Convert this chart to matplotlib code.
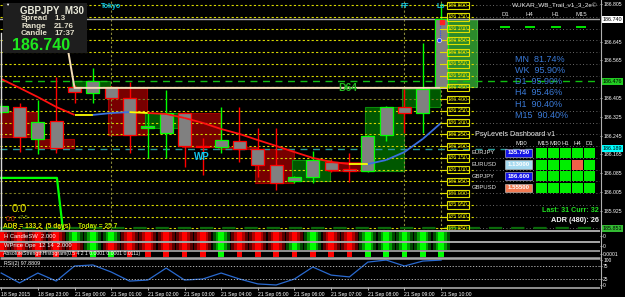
import numpy as np
import matplotlib
matplotlib.use('Agg')
import matplotlib.pyplot as plt
from matplotlib.patches import Rectangle
from matplotlib import transforms

plt.rcParams['font.family'] = ['Liberation Sans', 'DejaVu Sans']

# ------------------------------------------------------------------ data
bar_times = ['18 Sep 22:00', '18 Sep 22:30', '18 Sep 23:00', '18 Sep 23:30',
             '21 Sep 00:00', '21 Sep 00:30', '21 Sep 01:00', '21 Sep 01:30',
             '21 Sep 02:00', '21 Sep 02:30', '21 Sep 03:00', '21 Sep 03:30',
             '21 Sep 04:00', '21 Sep 04:30', '21 Sep 05:00', '21 Sep 05:30',
             '21 Sep 06:00', '21 Sep 06:30', '21 Sep 07:00', '21 Sep 07:30',
             '21 Sep 08:00', '21 Sep 08:30', '21 Sep 09:00', '21 Sep 09:30',
             '21 Sep 10:00']
time_labels = ['18 Sep 2015', '18 Sep 23:00', '21 Sep 00:00', '21 Sep 01:00',
               '21 Sep 02:00', '21 Sep 03:00', '21 Sep 04:00', '21 Sep 05:00',
               '21 Sep 06:00', '21 Sep 07:00', '21 Sep 08:00', '21 Sep 09:00',
               '21 Sep 10:00']

open_ = [186.345, 186.367, 186.231, 186.307, 186.452, 186.426, 186.452, 186.405,
         186.277, 186.256, 186.341, 186.201, 186.197, 186.222, 186.188, 186.120,
         186.052, 186.069, 186.133, 186.103, 186.094, 186.248, 186.367, 186.341,
         186.452]
high = [186.384, 186.384, 186.397, 186.494, 186.460, 186.533, 186.456, 186.473,
        186.341, 186.439, 186.345, 186.235, 186.367, 186.367, 186.277, 186.277,
        186.073, 186.180, 186.145, 186.171, 186.248, 186.371, 186.443, 186.639,
        186.809]
low = [186.337, 186.175, 186.167, 186.171, 186.384, 186.384, 186.401, 186.171,
       186.150, 186.150, 186.111, 186.077, 186.171, 186.133, 186.069, 186.014,
       186.043, 186.043, 186.090, 186.048, 186.090, 186.222, 186.256, 186.256,
       186.452]
close = [186.371, 186.239, 186.303, 186.192, 186.431, 186.477, 186.405, 186.248,
         186.286, 186.341, 186.201, 186.197, 186.226, 186.188, 186.120, 186.043,
         186.069, 186.141, 186.099, 186.094, 186.243, 186.367, 186.341, 186.443,
         186.740]

ma = [186.486, 186.448, 186.409, 186.367, 186.333, 186.333, 186.341, 186.345,
      186.341, 186.337, 186.320, 186.299, 186.273, 186.252, 186.226, 186.201,
      186.175, 186.150, 186.133, 186.124, 186.124, 186.141, 186.175, 186.231,
      186.299]
ma_seg_colors = ['r', 'r', 'r', 'r', 'y', 'b', 'b', 'y', 'r', 'r', 'r', 'r',
                 'r', 'r', 'r', 'r', 'r', 'r', 'r', 'y', 'b', 'b', 'b', 'b']

tan_x = [3.55, 4.0, 24.3]
tan_y = [186.652, 186.448, 186.448]
green_x = [-0.07, 3.04, 3.37]
green_y = [186.065, 186.065, 185.843]

rsi = [48, 10, 48, 17, 75, 79, 52, 17, 21, 67, 21, 25, 48, 25, 6, 2, 25, 71,
       40, 33, 90, 98, 75, 94, 97.88]

strip1 = list('RRRRGGGRRRRRGRRRRGRRGGGGG')
strip2 = list('RRRRRGRRRRRRGRRRGGRRGGGGG')
strip3 = list('RRRRRGGRRRRRGRRRRRRRGGGGG')

psy_levels = [186.80, 186.75, 186.70, 186.65, 186.60, 186.55, 186.50, 186.45,
              186.40, 186.35, 186.30, 186.25, 186.20, 186.15, 186.10, 186.05,
              186.00, 185.95, 185.90, 185.85]
dark_levels = [186.40, 186.00]
price_ticks = [186.805, 186.645, 186.565, 186.405, 186.325,
               186.245, 186.165, 186.085, 186.005, 185.925]

key_levels = [186.740, 186.476, 186.189, 185.851]
key_line_colors = ['#a8a8a8', '#10c010', '#2a9a9a', '#0b6a0b']
key_box_colors = ['#ffffff', '#22cc22', '#00ffff', '#33bb33']

session_names = ['Tokyo', 'FF', 'Lo']
session_bars = [6, 22, 24]

trade_marks_price = [186.727, 186.652]

symbol, timeframe = 'GBPJPY', 'M30'
info_labels = ['Spread', 'Range', 'Candle']
info_values = ['1.3', '21.76', '17:37']
bid_text = '186.740'

wukar_hdr = ['D1', 'H4', 'H1', 'M15']
wukar_tf = ['MN', 'WK', 'D1', 'H4', 'H1', 'M15']
wukar_pct = [81.74, 95.90, 95.90, 95.46, 90.40, 90.40]

dash_pairs = ['EURJPY', 'EURUSD', 'GBPJPY', 'GBPUSD']
dash_prices = ['135.750', '1.13000', '186.600', '1.55500']
dash_price_colors = ['#1414e6', '#a6daf0', '#1414e6', '#f27a52']
dash_cols = ['M15', 'M30', 'H1', 'H4', 'D1']
dash_status = [['G', 'G', 'G', 'G', 'G'],
               ['G', 'G', 'G', 'R', 'G'],
               ['G', 'G', 'G', 'G', 'G'],
               ['G', 'G', 'G', 'G', 'G']]

# ------------------------------------------------------------------ layout
W, H = 625, 297
fig = plt.figure(figsize=(W / 100, H / 100), dpi=100, facecolor='black')


def pbox(x0, y0, x1, y1):
    return [x0 / W, 1 - y1 / H, (x1 - x0) / W, (y1 - y0) / H]


SP = 18.33
XL = (-1.2 / SP, (600 - 1.2) / SP)
n = len(open_)
xs = np.arange(n)

ax = fig.add_axes(pbox(0, 0, 600, 230))
ax.set_facecolor('black')
ax.set_xlim(XL)
ax.set_ylim(185.8433, 186.822)
for s in ax.spines.values():
    s.set_visible(False)

# H1 bodies (built from pairs of M30 bars)
for k in range(0, n, 2):
    o = open_[k]
    c = close[min(k + 1, n - 1)]
    if k + 1 >= n:
        fc, ec = '#2b8a2b', '#3aa83a'
    elif c >= o:
        fc, ec = '#005800', '#0a8a0a'
    else:
        fc, ec = '#780000', '#a00000'
    ax.add_patch(Rectangle((k - 0.15, min(o, c)), 2.1, abs(c - o),
                           facecolor=fc, edgecolor=ec, lw=0.8, zorder=1))

# psy level lines
for lv in psy_levels:
    col = '#7a7a22' if any(abs(lv - d) < 1e-6 for d in dark_levels) else '#d8d800'
    ax.plot([XL[0], 25.9], [lv, lv], color=col, lw=0.8, ls=(0, (2, 2)), zorder=2)
    ax.plot([25.9, XL[1]], [lv, lv], color='#8c8c8c', lw=0.6, ls=(0, (1, 3)), zorder=2)

# key levels
styles = ['-', (0, (5, 4)), (0, (5, 4)), (0, (6, 4))]
lws = [1.0, 1.0, 1.0, 1.6]
for lv, lc, st, lw in zip(key_levels, key_line_colors, styles, lws):
    ax.plot([XL[0], XL[1]], [lv, lv], color=lc, lw=lw, ls=st, zorder=2.5)

# sessions
xtr = ax.get_xaxis_transform()
for name, k in zip(session_names, session_bars):
    ax.axvline(k, color='#8a8a3a', lw=0.8, ls=(0, (2, 2)), zorder=2)
    ax.text(k, 1 - 7 / 230, name, transform=xtr, ha='center', va='center',
            fontsize=5, fontweight='bold', color='#10c8e8', zorder=8)

# candles
for k in range(n):
    up = close[k] >= open_[k]
    col = '#00ff00' if up else '#ff0000'
    ax.vlines(k, low[k], high[k], color=col, lw=1, zorder=3)
    b0 = min(open_[k], close[k])
    bh = max(abs(close[k] - open_[k]), 0.002)
    ax.add_patch(Rectangle((k - 0.36, b0), 0.72, bh, facecolor='#808080',
                           edgecolor=col, lw=0.9, zorder=4))

# moving average with colour-coded slope
ma_cmap = {'r': '#ff1010', 'y': '#ffff00', 'b': '#3a70e0'}
for k in range(n - 1):
    ax.plot([k, k + 1], [ma[k], ma[k + 1]], color=ma_cmap[ma_seg_colors[k]],
            lw=1.3, zorder=5, solid_capstyle='butt')

ax.plot(tan_x, tan_y, color='#f2dcb8', lw=1.4, zorder=5)
ax.plot(green_x, green_y, color='#00ff00', lw=1.6, zorder=5)

# trade marks on current bar
ax.vlines(n - 1.05, trade_marks_price[1], trade_marks_price[0], color='#3050ff',
          lw=0.8, ls=(0, (1, 1)), zorder=6)
ax.plot(n - 0.95, trade_marks_price[0], marker='s', ms=2.6, color='#ff2020', zorder=7)
ax.plot(n - 1.1, trade_marks_price[1], marker='o', ms=3, color='#2040ff',
        mec='white', mew=0.4, zorder=7)

# yellow psy level boxes
for lv in psy_levels:
    ax.plot([23.95, 24.25], [lv, lv], color='#e0e000', lw=0.8, zorder=6)
    ax.text(24.92, lv, f'{lv:.3f}', fontsize=4, color='#d8d800', ha='center',
            va='center', zorder=7,
            bbox=dict(boxstyle='square,pad=0.2', facecolor='none',
                      edgecolor='#e0e000', lw=0.8))

# right price axis
ax.yaxis.tick_right()
ax.set_yticks(price_ticks)
ax.set_yticklabels([f'{p:.3f}' for p in price_ticks])
ax.tick_params(axis='y', colors='white', labelsize=3.7, length=1.5, pad=0.8, width=0.5)
ax.tick_params(axis='x', bottom=False, labelbottom=False)
btr = transforms.blended_transform_factory(ax.transAxes, ax.transData)
for lv, bc in zip(key_levels, key_box_colors):
    ax.text(1.005, lv, f'{lv:.3f}', transform=btr, fontsize=3.9, color='black',
            ha='left', va='center', clip_on=False, zorder=20,
            bbox=dict(boxstyle='square,pad=0.15', fc=bc, ec='none'))

# ------------------------------------------------------------------ indicator strips
def strip_axes(y0, y1):
    a = fig.add_axes(pbox(0, y0, 600, y1))
    a.set_facecolor('black')
    a.set_xlim(XL)
    a.set_ylim(0, 1)
    for s in a.spines.values():
        s.set_visible(False)
    a.tick_params(axis='x', bottom=False, labelbottom=False)
    a.yaxis.tick_right()
    a.tick_params(axis='y', colors='white', labelsize=3.6, length=1.5, pad=0.8, width=0.5)
    return a


pal = {'R': ('#5a0000', '#b00000', '#ff0000'), 'G': ('#004a00', '#00a000', '#00ff00')}

s1 = strip_axes(232, 240.6)
s2 = strip_axes(242.4, 250)
s3 = strip_axes(251.3, 257)
for a, vals in ((s1, strip1), (s2, strip2)):
    for k, c in enumerate(vals):
        d, m, b = pal[c]
        a.add_patch(Rectangle((k - 0.47, 0), 0.94, 1, color=d, lw=0))
        a.add_patch(Rectangle((k - 0.3, 0), 0.6, 1, color=m, lw=0))
        a.add_patch(Rectangle((k - 0.16, 0), 0.32, 1, color=b, lw=0))
for k, c in enumerate(strip3):
    s3.add_patch(Rectangle((k - 0.15, 0.0), 0.3, 1, color=pal[c][2], lw=0))
s1.set_yticks([0.5]); s1.set_yticklabels(['0'])
s2.set_yticks([0.5]); s2.set_yticklabels(['0'])
s3.set_yticks([0.5]); s3.set_yticklabels(['0.0001'])

# RSI window
ar = fig.add_axes(pbox(0, 258.5, 600, 287))
ar.set_facecolor('black')
ar.set_xlim(XL)
ar.set_ylim(-5.8, 105.8 - 1.9)
for s in ar.spines.values():
    s.set_visible(False)
ar.plot(xs, rsi, color='#2a6ad0', lw=0.9)
for lvl in (75, 25):
    ar.axhline(lvl, color='#c8c8c8', lw=0.6, ls=(0, (1.5, 2)))
ar.yaxis.tick_right()
ar.set_yticks([100, 75, 25, 0])
ar.set_yticklabels(['100', '75', '25', '0'])
ar.tick_params(axis='y', colors='white', labelsize=3.5, length=1.5, pad=0.8, width=0.5)
ar.set_xticks(xs[::2])
ar.set_xticklabels(time_labels)
ar.tick_params(axis='x', colors='white', labelsize=3.7, length=2, pad=1.5, width=0.5)
for lab in ar.get_xticklabels():
    lab.set_ha('left')
    lab.set_family(['Liberation Sans Narrow', 'Liberation Sans'])

# ------------------------------------------------------------------ overlay decorations
ov = fig.add_axes([0, 0, 1, 1], zorder=10)
ov.set_xlim(0, W)
ov.set_ylim(H, 0)
ov.axis('off')
ov.patch.set_alpha(0)

for y, lw in ((231, 1.4), (241.5, 1.4), (250.6, 1.2), (258, 1.8), (287.6, 1.2)):
    ov.plot([0, 600], [y, y], color='#a8a8a8', lw=lw, solid_capstyle='butt')
ov.plot([600.5, 600.5], [0, 288], color='#b0b0b0', lw=0.8)
ov.plot([1, 1], [33, 230], color='#d8d8d8', lw=1)

# info box
ov.add_patch(Rectangle((3, 3), 84, 50, facecolor='#1e1e1e', edgecolor='none'))
ov.text(5, 4.5, '\u25bc', fontsize=3, color='white', va='center')
ov.text(20, 10.5, f'{symbol}  {timeframe}', fontsize=7, fontweight='bold',
        color='#ececdc', va='center')
for lab, val, y in zip(info_labels, info_values, [18, 26, 33.5]):
    ov.text(21, y, lab, fontsize=5.8, fontweight='bold', color='#e4e0cc', va='center')
    ov.text(54, y, val, fontsize=5.8, fontweight='bold', color='#e4e0cc', va='center')
ov.text(12, 46, bid_text, fontsize=11.5, fontweight='bold', color='#1ee81e', va='center')

# chart labels
ov.text(338, 88, 'D64', fontsize=7.5, fontweight='bold', color='#22b822', va='center')
ov.text(194, 156.5, 'WP', fontsize=7, fontweight='bold', color='#10c8f0', va='center')
ov.text(12, 209, '0.0', fontsize=8, color='#e8e800', va='center')
ov.text(6, 219.5, '0.0', fontsize=5, color='#c83010', va='center')
ov.text(18, 217.5, '+7.5', fontsize=4, color='#80a020', va='center')
ov.text(3, 226.8, 'ADR = 133.2  (5 days)', fontsize=4.8, fontweight='bold',
        color='#e6e600', va='center')
ov.text(78, 226.8, 'Today = 25.7', fontsize=4.8, fontweight='bold', color='#c0e800',
        va='center')

# WUKAR panel
ov.text(598, 6, 'WUKAR_WB_Trail_v1_3_2e\u00a9', fontsize=4.6, color='#e8e8e8',
        ha='right', va='center')
for lab, x in zip(wukar_hdr, [505, 529.5, 555.5, 581]):
    ov.text(x, 15, lab, fontsize=4.3, color='#e0e0e0', ha='center', va='center')
    ov.add_patch(Rectangle((x - 5, 26), 10, 2.2, facecolor='#00e000', lw=0))
for i, (tf, pct) in enumerate(zip(wukar_tf, wukar_pct)):
    ov.text(515, 59 + i * 11.3, f'{tf}  {pct:.2f}%', fontsize=6.5, color='#3a7ad8',
            va='center')

# PsyLevels dashboard
ov.text(475, 134, 'PsyLevels Dashboard v1', fontsize=5.2, color='#e8e8e8', va='center')
ov.text(521, 143.5, 'M30', fontsize=4.3, color='#e8e8e8', ha='center', va='center')
col_x = [536, 548, 560, 572, 584]
for lab, x in zip(dash_cols, col_x):
    ov.text(x + 1, 143.5, lab, fontsize=4.3, color='#e8e8e8', va='center')
for r, (pair, ptxt, pc) in enumerate(zip(dash_pairs, dash_prices, dash_price_colors)):
    y = 153 + r * 11.6
    ov.text(472, y, pair, fontsize=4.2, color='#e0e0e0', va='center')
    ov.add_patch(Rectangle((505, y - 4.3), 27, 8.6, facecolor=pc, edgecolor='#d0d0d0', lw=0.4))
    ov.text(518.5, y, ptxt, fontsize=4.4, fontweight='bold', color='white',
            ha='center', va='center')
    for c, x in enumerate(col_x):
        st = dash_status[r][c]
        ov.add_patch(Rectangle((x, y - 5), 10.5, 10,
                               facecolor='#00ee00' if st == 'G' else '#f06048', lw=0))
ov.text(599, 210, 'Last: 31 Curr: 32', fontsize=5.1, fontweight='bold', color='#20e020',
        ha='right', va='center')
ov.text(599, 220, 'ADR (480): 26', fontsize=5.3, fontweight='bold', color='#f0f0f0',
        ha='right', va='center')

# indicator labels
ov.text(4, 236.3, 'H CandleSW  2.000', fontsize=4.2, color='white', va='center')
ov.text(4, 246, 'WPrice Ope  12 14  2.000', fontsize=4.2, color='white', va='center')
ov.text(3, 254, 'AbsoluteStrengthHistogram(0.5 4 2 1 0.0001 0.0001 0.0111)',
        fontsize=3.7, color='white', va='center')
ov.text(4, 263.5, 'RSI(2) 97.8809', fontsize=3.8, color='white', va='center')

fig.savefig('out.png', dpi=100, facecolor='black')
